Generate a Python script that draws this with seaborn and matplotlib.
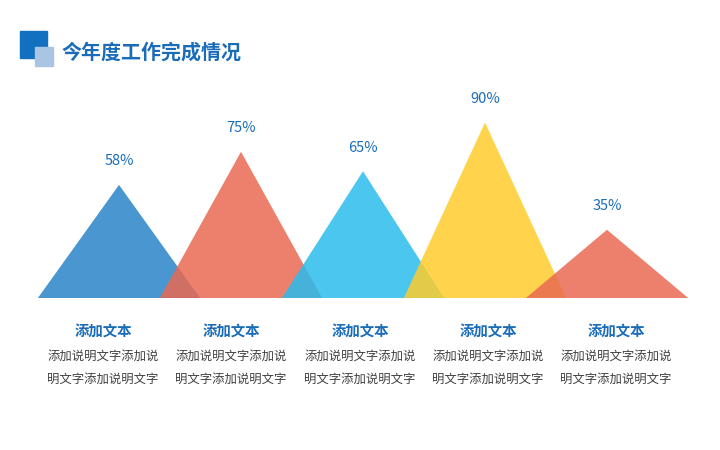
import matplotlib.pyplot as plt
import seaborn as sns
from matplotlib.patches import Rectangle

sns.set_theme(style="white")
plt.rcParams['font.family'] = ['Noto Sans CJK SC', 'DejaVu Sans']

# data
values = [58, 75, 65, 90, 35]
colors = ["#2a84c8", "#e96a52", "#2abced", "#ffcd2d", "#e96a52"]
item_titles = ["添加文本"] * 5
desc_line1 = ["添加说明文字添加说"] * 5
desc_line2 = ["明文字添加说明文字"] * 5
chart_title = "今年度工作完成情况"

W, H = 720, 450
fig = plt.figure(figsize=(7.2, 4.5), dpi=100)
fig.patch.set_facecolor("white")

# triangle axes: baseline at y=298px, centres 122px apart
ax = fig.add_axes([0, 152 / H, 1, 298 / H])
ax.set_xlim(-119 / 122, (W - 119) / 122)
ax.set_ylim(0, 298 / 1.95)
ax.axis("off")

half = 0.665
for i, (v, c) in enumerate(zip(values, colors)):
    ax.fill([i - half, i, i + half], [0, v, 0], color=c, alpha=0.85, lw=0)
    ax.text(i, v + 8.5, f"{v}%", ha="center", va="bottom",
            fontsize=10.5, color="#1a6cb8")

# header squares
fig.patches.append(Rectangle((20 / W, 1 - 58 / H), 27 / W, 27 / H,
                             transform=fig.transFigure, color="#1170c0", zorder=1))
fig.patches.append(Rectangle((35 / W, 1 - 66 / H), 18 / W, 19 / H,
                             transform=fig.transFigure, color="#a9c5e3", zorder=2))
fig.text(61 / W, 1 - 52 / H, chart_title, fontsize=14.4, fontweight="bold",
         color="#1a6cb8", va="center", ha="left")

# captions under the chart
text_x = [103, 231, 360, 488, 616]
for x, t, d1, d2 in zip(text_x, item_titles, desc_line1, desc_line2):
    fig.text(x / W, 1 - 333 / H, t, fontsize=10.4, fontweight="bold",
             color="#1a6cb8", ha="center", va="center")
    fig.text(x / W, 1 - 356 / H, d1, fontsize=8.9, color="#404040",
             ha="center", va="center")
    fig.text(x / W, 1 - 379 / H, d2, fontsize=8.9, color="#404040",
             ha="center", va="center")

fig.savefig("out.png", dpi=100, facecolor="white")
